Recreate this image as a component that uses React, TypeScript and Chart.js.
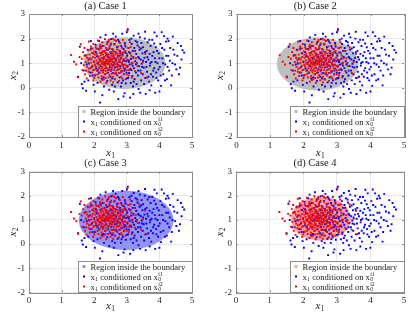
import React, { useEffect, useRef } from "react";
import { Chart, registerables } from "chart.js";

Chart.register(...registerables);

const SERIF = '"Liberation Serif", "DejaVu Serif", serif';

// x1 conditioned on x0^{i1} (blue)
const bluePoints: number[][] = [
  [1.5,0.45],[1.56,1.67],[1.6,1.0],[1.65,-0.02],[1.68,0.7],[1.72,1.32],
  [1.75,-0.12],[1.77,0.95],[1.8,1.55],[1.82,0.3],[1.85,1.18],[1.88,0.62],[1.9,1.9],[1.93,0.85],[1.96,1.4],[1.98,0.12],
  [2.0,1.05],[2.02,0.5],[2.04,1.75],[2.06,0.78],[2.08,1.28],[2.1,0.2],[2.12,0.98],[2.13,1.58],[2.15,0.62],[2.17,1.15],[2.18,-0.6],[2.19,2.05],[2.2,0.88],[2.22,1.42],[2.23,0.38],[2.24,1.0],
  [2.26,1.7],[2.27,0.7],[2.28,1.2],[2.3,0.05],[2.31,0.95],[2.32,1.5],[2.34,0.55],[2.35,2.15],[2.36,1.1],[2.37,0.8],[2.38,1.35],[2.4,0.28],[2.41,1.85],[2.42,0.98],[2.43,0.62],[2.44,1.25],[2.46,-0.08],[2.47,1.6],[2.48,0.85],[2.49,1.08],
  [2.5,0.45],[2.51,1.4],[2.52,1.98],[2.53,0.72],[2.54,1.15],[2.55,0.12],[2.56,0.92],[2.57,1.55],[2.58,0.6],[2.59,1.28],[2.6,-0.15],[2.61,1.02],[2.62,1.78],[2.63,0.35],[2.64,0.82],[2.65,1.45],[2.66,2.08],[2.67,1.12],[2.68,0.55],[2.7,1.65],[2.71,0.95],[2.72,0.22],[2.73,1.3],[2.74,-0.46],
  [2.75,0.75],[2.76,1.88],[2.77,1.05],[2.78,0.42],[2.79,1.5],[2.8,0.88],[2.81,1.22],[2.82,0.05],[2.83,1.7],[2.84,0.65],[2.85,1.0],[2.86,2.2],[2.87,1.35],[2.88,0.3],[2.89,0.92],[2.9,1.58],[2.91,0.55],[2.92,1.15],[2.93,-0.22],[2.94,1.82],[2.95,0.78],[2.96,1.42],[2.97,0.18],[2.98,1.08],[2.99,0.62],[3.0,2.26],
  [3.01,1.3],[3.02,0.85],[3.03,2.38],[3.04,0.4],[3.05,1.62],[3.06,1.05],[3.07,0.6],[3.08,1.95],[3.09,0.95],[3.1,-0.4],[3.11,1.4],[3.12,0.2],[3.13,1.18],[3.14,0.72],[3.15,1.78],[3.16,1.0],[3.17,0.48],[3.18,1.5],[3.19,0.05],[3.2,1.25],[3.21,2.12],[3.22,0.8],[3.23,1.62],[3.24,0.35],
  [3.26,1.08],[3.27,1.9],[3.28,0.62],[3.29,1.38],[3.3,0.15],[3.31,1.0],[3.33,1.72],[3.34,0.5],[3.35,1.25],[3.36,-0.05],[3.38,0.88],[3.39,1.55],[3.4,2.05],[3.42,0.7],[3.43,1.15],[3.44,0.3],[3.45,1.82],[3.46,0.98],[3.48,1.4],[3.49,0.55],
  [3.5,1.65],[3.52,0.82],[3.54,1.22],[3.55,2.0],[3.56,2.28],[3.57,0.4],[3.58,-0.25],[3.59,1.05],[3.61,1.5],[3.62,0.65],[3.64,1.85],[3.66,1.15],[3.68,0.25],[3.7,1.38],[3.71,0.9],[3.73,1.7],[3.74,0.55],
  [3.76,1.05],[3.78,1.95],[3.8,0.45],[3.82,1.45],[3.84,0.8],[3.86,1.2],[3.87,-0.2],[3.89,1.65],[3.9,0.62],[3.92,2.1],[3.94,1.0],[3.96,0.3],[3.98,1.4],
  [4.01,0.85],[4.03,1.78],[4.05,0.08],[4.07,2.26],[4.09,1.2],[4.12,0.55],[4.15,1.55],[4.18,0.95],[4.2,1.88],[4.23,0.35],
  [4.27,1.3],[4.3,0.7],[4.33,1.62],[4.36,0.1],[4.4,1.0],[4.41,2.08],[4.46,1.35],
  [4.52,0.75],[4.56,1.82],[4.63,0.82],[4.68,1.15],[4.71,1.53],[4.76,1.43],
  [1.7,0.25],[1.83,1.0],[1.95,0.5],[2.05,1.45],[2.11,0.72],[2.2,1.65],[2.29,0.42],[2.33,1.0],[2.39,1.55],[2.45,0.75],
  [2.5,1.75],[2.55,0.38],[2.6,1.2],[2.64,0.05],[2.69,0.85],[2.73,1.95],[2.77,0.6],[2.8,1.4],[2.84,0.2],[2.88,1.1],
  [2.92,0.7],[2.96,1.68],[3.0,0.38],[3.04,1.12],[3.07,1.45],[3.1,0.75],[3.14,2.0],[3.18,0.9],[3.21,0.25],[3.25,1.5],
  [3.28,0.95],[3.32,1.85],[3.35,0.7],[3.38,1.2],[3.41,-0.2],[3.44,1.6],[3.47,0.85],[3.5,1.1],[3.53,0.15],[3.56,1.45],
  [3.6,0.85],[3.63,1.25],[3.66,0.45],[3.69,1.95],[3.72,1.0],[3.75,0.1],[3.78,1.3],[3.81,0.7],[3.84,1.8],[3.88,1.05],
  [3.91,0.4],[3.93,1.5],[3.97,0.75],[4.0,1.2],[4.04,0.5],[4.08,1.62],[4.11,1.0],[4.14,2.1],[4.17,0.3],[4.21,1.3],
  [4.25,0.85],[4.28,1.9],[4.32,1.1],[4.38,0.5],[4.43,1.55],[4.48,0.95],[4.55,1.3],[4.6,0.55],[4.66,1.7],
  [2.02,-0.15],[2.25,-0.3],[2.9,-0.35],[3.2,-0.25],[3.7,-0.1],[4.0,-0.15],[1.62,0.15],[1.9,1.6],[2.15,1.9],[2.58,2.2],
  [3.36,2.2],[3.85,2.25],[4.25,2.0],
];

// x1 conditioned on x0^{i2} (red)
const redPoints: number[][] = [
  [1.29,1.33],[1.38,1.06],
  [1.45,0.95],[1.51,0.43],[1.55,1.25],[1.59,1.77],
  [1.62,1.18],[1.64,0.72],[1.66,1.45],[1.68,0.92],[1.7,1.62],[1.72,0.55],[1.74,1.05],[1.76,1.32],[1.77,0.38],[1.79,0.85],
  [1.81,1.52],[1.82,1.12],[1.83,0.66],[1.84,1.88],[1.85,0.98],[1.86,1.35],[1.87,0.48],[1.88,1.2],[1.89,0.8],[1.9,1.68],[1.91,1.02],[1.93,0.62],[1.94,1.42],[1.95,0.9],[1.96,1.25],[1.97,0.3],[1.98,1.78],[1.99,1.08],
  [2.0,0.74],[2.01,1.48],[2.02,0.95],[2.03,1.22],[2.04,0.52],[2.05,1.65],[2.06,0.85],[2.07,1.12],[2.08,1.38],[2.09,0.68],[2.1,0.98],[2.11,1.92],[2.12,1.28],[2.13,0.42],[2.14,1.05],[2.15,0.8],[2.15,1.55],[2.16,1.18],[2.17,0.6],[2.18,1.42],[2.18,0.92],[2.19,1.75],[2.19,0.25],[2.2,1.08],[2.2,1.32],
  [2.21,0.7],[2.21,1.6],[2.22,0.98],[2.23,1.22],[2.23,0.48],[2.24,1.45],[2.25,0.85],[2.25,1.85],[2.26,1.12],[2.27,0.62],[2.27,1.35],[2.28,0.95],[2.29,1.7],[2.29,0.35],[2.3,1.05],[2.31,0.78],[2.31,1.5],[2.32,1.18],[2.33,0.55],[2.33,1.98],[2.34,0.9],[2.35,1.3],[2.35,0.68],[2.36,1.62],[2.37,1.0],[2.37,0.2],[2.38,1.4],[2.38,0.82],[2.39,1.15],[2.39,1.78],
  [2.4,0.6],[2.41,1.25],[2.41,0.95],[2.42,1.55],[2.43,0.42],[2.43,1.08],[2.44,1.88],[2.45,0.75],[2.45,1.35],[2.46,1.02],[2.47,0.52],[2.47,1.68],[2.48,1.18],[2.49,0.88],[2.49,1.45],[2.5,0.3],[2.51,1.1],[2.51,0.68],[2.52,1.8],[2.53,0.98],[2.53,1.3],[2.54,0.58],[2.55,1.58],[2.55,1.15],[2.56,0.82],[2.57,2.0],[2.57,1.38],[2.58,0.45],[2.59,1.05],[2.59,0.9],
  [2.6,1.48],[2.61,0.72],[2.62,1.22],[2.62,1.75],[2.63,0.95],[2.64,0.35],[2.65,1.35],[2.66,1.08],[2.67,0.62],[2.67,1.9],[2.68,1.2],[2.69,0.85],[2.7,1.55],[2.71,0.5],[2.72,1.02],[2.72,1.4],[2.73,0.75],[2.74,1.68],[2.75,1.15],[2.76,0.28],[2.76,0.92],[2.77,1.3],[2.78,0.6],[2.79,1.82],[2.79,1.05],
  [2.8,0.8],[2.81,1.45],[2.82,1.18],[2.83,0.45],[2.84,0.98],[2.85,1.62],[2.86,0.7],[2.87,1.3],[2.88,1.95],[2.89,0.88],[2.9,1.1],[2.91,0.55],[2.92,1.48],[2.94,0.95],[2.95,1.75],[2.96,0.35],[2.97,1.22],[2.99,0.72],
  [3.01,1.38],[3.03,0.9],[3.05,1.62],[3.06,0.5],[3.08,1.12],[3.1,1.85],[3.12,0.78],[3.14,1.3],[3.16,0.42],[3.18,1.02],
  [3.22,1.5],[3.25,0.68],[3.28,1.2],[3.33,0.88],[3.38,1.65],
  [3.44,0.6],[3.5,1.05],[3.57,1.38],
  [3.02,2.32],[3.62,0.42],
  [1.92,1.15],[1.97,0.72],[2.02,1.35],[2.04,0.88],[2.07,1.58],[2.09,1.02],[2.11,0.55],[2.13,1.25],[2.16,0.9],[2.17,1.68],
  [2.19,1.12],[2.22,0.78],[2.24,1.02],[2.26,1.48],[2.28,0.72],[2.3,1.25],[2.32,0.95],[2.34,1.42],[2.36,0.82],[2.38,1.08],
  [2.4,1.32],[2.42,0.72],[2.44,1.15],[2.46,1.58],[2.48,0.95],[2.5,1.22],[2.52,0.82],[2.54,1.45],[2.56,1.05],[2.58,1.28],
  [2.6,0.92],[2.62,0.58],[2.64,1.15],[2.66,1.42],[2.68,0.98],[2.7,0.72],[2.72,1.25],[2.74,0.88],[2.76,1.52],[2.78,1.1],
  [2.8,1.32],[2.82,0.68],[2.84,1.2],[2.86,0.95],[2.88,1.42],[2.9,0.8],[2.93,1.08],[2.96,1.5],[2.98,0.9],[3.02,1.15],
  [3.06,0.72],[3.1,1.42],[3.15,0.98],[3.2,1.2],[3.3,1.0],[1.78,1.22],[1.84,0.78],[1.88,1.55],[1.95,1.6],[2.0,0.4],
  [2.25,0.32],[2.45,1.95],[2.62,1.95],[2.35,0.4],[2.58,0.22],[2.86,0.38],[1.75,0.7],[1.7,1.3],[3.0,0.55],[3.12,1.65],
];

// Regions inside the boundary (one per case)
const caseTitles = ["(a) Case 1", "(b) Case 2", "(c) Case 3", "(d) Case 4"];
const regionCenterX = [2.93, 2.42, 2.98, 2.53];
const regionCenterY = [1.0, 0.97, 0.98, 1.05];
const regionRadiusX = [1.26, 1.22, 1.45, 0.89];
const regionRadiusY = [1.05, 1.08, 1.23, 0.91];
const regionColors = ["#bebebe", "#bebebe", "#9393f2", "#f7a2a2"];

const xTicks = [0, 1, 2, 3, 4, 5];
const yTicks = [-2, -1, 0, 1, 2, 3];

const legendLabels = [
  [{ t: "Region inside the boundary" }],
  [{ t: "x", sub: "1" }, { t: " conditioned on x", sub: "0", sup: "i1" }],
  [{ t: "x", sub: "1" }, { t: " conditioned on x", sub: "0", sup: "i2" }],
];

const W = 415;
const H = 312;
const Y_W = 20;
const X_H = 16;

// plot areas [left, right, top, bottom] in page pixels
const panels = [
  { area: [29, 192, 14, 137], titleY: 6, xLabelY: 153 },
  { area: [236.5, 404, 14, 137], titleY: 6, xLabelY: 153 },
  { area: [29, 192, 171.7, 292.3], titleY: 163.3, xLabelY: 306 },
  { area: [236, 404, 171.7, 292.3], titleY: 163.3, xLabelY: 306 },
];

type Part = { t: string; sub?: string; sup?: string };

function drawRich(ctx: CanvasRenderingContext2D, parts: Part[], x: number, baseline: number, size: number, style: string, measureOnly = false): number {
  let cx = x;
  for (const p of parts) {
    ctx.font = `${style} ${size}px ${SERIF}`;
    if (!measureOnly) ctx.fillText(p.t, cx, baseline);
    cx += ctx.measureText(p.t).width;
    if (p.sub || p.sup) {
      const s = size * 0.68;
      ctx.font = `normal ${s}px ${SERIF}`;
      let w = 0;
      if (p.sub) {
        if (!measureOnly) ctx.fillText(p.sub, cx + 0.3, baseline + size * 0.22);
        w = Math.max(w, ctx.measureText(p.sub).width);
      }
      if (p.sup) {
        if (!measureOnly) ctx.fillText(p.sup, cx + 0.3, baseline - size * 0.42);
        w = Math.max(w, ctx.measureText(p.sup).width);
      }
      cx += w + 0.3;
    }
  }
  return cx - x;
}

const AXIS_COLOR = "#8c8c8c";

const customPlugin = {
  id: "custom",
  beforeDatasetsDraw(chart: any, _args: any, opts: any) {
    const ctx = chart.ctx as CanvasRenderingContext2D;
    const xs = chart.scales.x;
    const ys = chart.scales.y;
    const i = opts.index;
    const cx = xs.getPixelForValue(regionCenterX[i]);
    const cy = ys.getPixelForValue(regionCenterY[i]);
    const rx = Math.abs(xs.getPixelForValue(regionCenterX[i] + regionRadiusX[i]) - cx);
    const ry = Math.abs(ys.getPixelForValue(regionCenterY[i] + regionRadiusY[i]) - cy);
    ctx.save();
    ctx.fillStyle = regionColors[i];
    ctx.beginPath();
    ctx.ellipse(cx, cy, rx, ry, 0, 0, Math.PI * 2);
    ctx.fill();
    ctx.restore();
  },
  afterDraw(chart: any, _args: any, opts: any) {
    const ctx = chart.ctx as CanvasRenderingContext2D;
    const { left, right, top, bottom } = chart.chartArea;
    const xs = chart.scales.x;
    const ys = chart.scales.y;
    const i = opts.index;
    const p = panels[i];
    ctx.save();
    // inward ticks
    ctx.strokeStyle = AXIS_COLOR;
    ctx.lineWidth = 1;
    ctx.beginPath();
    for (const v of xTicks) {
      const px = Math.round(xs.getPixelForValue(v)) + 0.5;
      ctx.moveTo(px, bottom); ctx.lineTo(px, bottom - 2);
      ctx.moveTo(px, top); ctx.lineTo(px, top + 2);
    }
    for (const v of yTicks) {
      const py = Math.round(ys.getPixelForValue(v)) + 0.5;
      ctx.moveTo(left, py); ctx.lineTo(left + 2, py);
      ctx.moveTo(right, py); ctx.lineTo(right - 2, py);
    }
    ctx.stroke();
    // box
    ctx.strokeRect(Math.round(left) + 0.5, Math.round(top) + 0.5, Math.round(right - left), Math.round(bottom - top));

    // legend
    const lw = 114, lh = 31;
    const lx = Math.round(right - lw) + 0.5;
    const ly = Math.round(bottom - lh) + 0.5;
    ctx.fillStyle = "#ffffff";
    ctx.fillRect(lx, ly, lw, lh);
    ctx.strokeStyle = AXIS_COLOR;
    ctx.strokeRect(lx, ly, lw, lh);
    const markerColors = [regionColors[i], "#0000ff", "#ff0000"];
    for (let r = 0; r < 3; r++) {
      const cyRow = ly + 5 + r * 10;
      ctx.fillStyle = markerColors[r];
      if (r === 0) ctx.fillRect(lx + 4, cyRow - 1.5, 3, 3);
      else ctx.fillRect(lx + 4.5, cyRow - 1, 2, 2);
      ctx.fillStyle = "#1a1a1a";
      ctx.textBaseline = "alphabetic";
      ctx.textAlign = "left";
      drawRich(ctx, legendLabels[r] as Part[], lx + 12, cyRow + 3, 8.6, "normal");
    }

    // title
    ctx.fillStyle = "#1a1a1a";
    ctx.textAlign = "center";
    ctx.textBaseline = "middle";
    ctx.font = `normal 10.5px ${SERIF}`;
    ctx.fillText(caseTitles[i], (left + right) / 2 - 5, p.titleY);

    // x label
    ctx.textAlign = "left";
    ctx.textBaseline = "alphabetic";
    const xl: Part[] = [{ t: "x", sub: "1" }];
    const wx = drawRich(ctx, xl, 0, 0, 11, "italic", true);
    drawRich(ctx, xl, (left + right) / 2 - wx / 2, p.xLabelY + 2.5, 11, "italic");
    // y label
    const yl: Part[] = [{ t: "x", sub: "2" }];
    const wy = drawRich(ctx, yl, 0, 0, 11, "italic", true);
    ctx.translate(left - 16, (top + bottom) / 2);
    ctx.rotate(-Math.PI / 2);
    drawRich(ctx, yl, -wy / 2, 2.5, 11, "italic");
    ctx.restore();
  },
};

function Panel({ index }: { index: number }) {
  const ref = useRef<HTMLCanvasElement | null>(null);
  useEffect(() => {
    if (!ref.current) return;
    const [l, r, t, b] = panels[index].area;
    const tickFont = { family: SERIF, size: 9 };
    const chart = new Chart(ref.current, {
      type: "scatter",
      data: {
        datasets: [
          {
            label: "blue",
            data: bluePoints.map(([x, y]) => ({ x, y })),
            backgroundColor: "#0000ff",
            borderWidth: 0,
            pointStyle: "rect",
            pointRadius: 1.35,
            order: 2,
          },
          {
            label: "red",
            data: redPoints.map(([x, y]) => ({ x, y })),
            backgroundColor: "#ff0000",
            borderWidth: 0,
            pointStyle: "rect",
            pointRadius: 1.35,
            order: 1,
          },
        ],
      },
      options: {
        animation: false,
        responsive: false,
        events: [],
        layout: { padding: { left: l - Y_W, right: W - r, top: t, bottom: H - b - X_H } },
        plugins: {
          legend: { display: false },
          title: { display: false },
          tooltip: { enabled: false },
          custom: { index },
        } as any,
        scales: {
          x: {
            type: "linear",
            min: 0,
            max: 5,
            afterBuildTicks: (s: any) => { s.ticks = xTicks.map((v) => ({ value: v })); },
            afterFit: (s: any) => { s.height = X_H; },
            ticks: { font: tickFont, color: "#262626", padding: 3, maxRotation: 0, autoSkip: false },
            grid: { color: "#e8e8e8", drawTicks: false },
            border: { display: false },
          },
          y: {
            type: "linear",
            min: -2,
            max: 3,
            afterBuildTicks: (s: any) => { s.ticks = yTicks.map((v) => ({ value: v })); },
            afterFit: (s: any) => { s.width = Y_W; },
            ticks: { font: tickFont, color: "#262626", padding: 4, autoSkip: false },
            grid: { color: "#e8e8e8", drawTicks: false },
            border: { display: false },
          },
        },
      },
      plugins: [customPlugin as any],
    });
    return () => chart.destroy();
  }, [index]);
  return (
    <canvas
      ref={ref}
      width={W}
      height={H}
      style={{ position: "absolute", left: 0, top: 0, width: W, height: H }}
    />
  );
}

export default function App() {
  return (
    <div style={{ position: "absolute", left: 0, top: 0, width: W, height: H, background: "#ffffff" }}>
      {[0, 1, 2, 3].map((i) => (
        <Panel key={i} index={i} />
      ))}
    </div>
  );
}
